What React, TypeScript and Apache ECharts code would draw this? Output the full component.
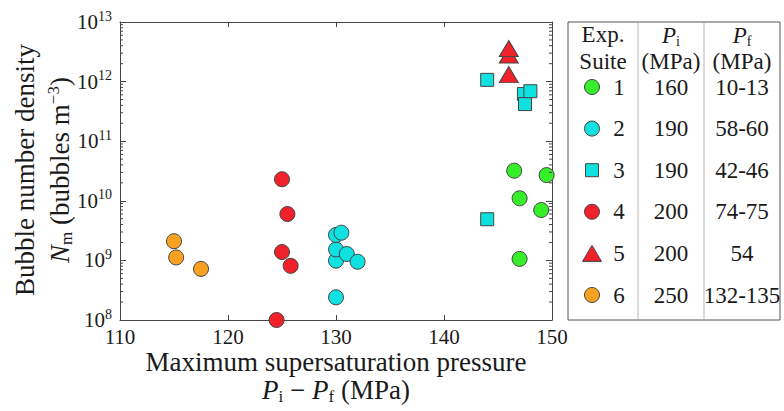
import React, { useEffect, useRef } from "react";
import * as echarts from "echarts";

const FONT = "Liberation Serif";

// Data: [maximum supersaturation pressure (MPa), bubble number density (m^-3)]
const suite1: number[][] = [
  [146.5, 3.2e10], [147.0, 1.1e10], [147.0, 1.06e9], [149.0, 7.0e9], [149.5, 2.7e10],
];
const suite2: number[][] = [
  [130.0, 2.4e8], [130.0, 9.9e8], [130.0, 1.53e9], [130.0, 2.67e9], [130.5, 2.92e9], [131.0, 1.28e9], [132.0, 9.5e8],
];
const suite3: number[][] = [
  [144.0, 1.07e12], [144.0, 4.9e9], [147.4, 6.2e11], [147.5, 4.2e11], [148.0, 6.9e11],
];
const suite4: number[][] = [
  [125.0, 2.3e10], [125.5, 6.0e9], [125.0, 1.38e9], [125.8, 8.1e8], [124.5, 1.0e8],
];
const suite5: number[][] = [
  [146.0, 1.31e12], [146.0, 2.8e12], [146.0, 3.6e12],
];
const suite6: number[][] = [
  [115.0, 2.1e9], [115.2, 1.12e9], [117.5, 7.2e8],
];

const suiteNames = ["1", "2", "3", "4", "5", "6"];
const piValues = ["160", "190", "190", "200", "200", "250"];
const pfValues = ["10-13", "58-60", "42-46", "74-75", "54", "132-135"];
const colors = ["#36ef2a", "#0fe0e0", "#0fe0e0", "#f0212b", "#f0212b", "#f9a221"];
const symbols = ["circle", "circle", "rect", "circle", "triangle", "circle"];
const symbolSizes: any[] = [15, 15, 13, 15, [19, 16], 15];
const allData = [suite1, suite2, suite3, suite4, suite5, suite6];

const xTicks = [110, 120, 130, 140, 150];
const decades = [8, 9, 10, 11, 12, 13];
const minorMultipliers = [2, 3, 4, 5, 6, 7, 8, 9];

const X_MIN = 110, X_MAX = 150;
const Y_MIN = 1e8, Y_MAX = 1e13;

const EDGE = "#444";
const TXT = "#1a1a1a";

export default function App() {
  const ref = useRef<HTMLDivElement>(null);
  useEffect(() => {
    if (!ref.current) return;
    const chart = echarts.init(ref.current, null, { renderer: "svg" });

    const minorValues: number[] = [];
    for (const d of decades.slice(0, -1)) {
      for (const m of minorMultipliers) minorValues.push(m * Math.pow(10, d));
    }

    const scatterSeries = allData.map((data, i) => ({
      type: "scatter",
      name: "Suite " + suiteNames[i],
      data,
      symbol: symbols[i],
      symbolSize: symbolSizes[i],
      clip: false,
      itemStyle: { color: colors[i], borderColor: EDGE, borderWidth: 1, opacity: 1 },
      z: 3,
    }));

    const minorSeries = {
      type: "custom",
      silent: true,
      clip: false,
      z: 4,
      data: [[X_MIN, Y_MIN]],
      renderItem: (params: any, api: any) => {
        const children: any[] = [];
        for (const v of minorValues) {
          const pl = api.coord([X_MIN, v]);
          const pr = api.coord([X_MAX, v]);
          children.push({
            type: "line",
            shape: { x1: pl[0], y1: pl[1], x2: pl[0] + 3, y2: pl[1] },
            style: { stroke: EDGE, lineWidth: 1 },
          });
          children.push({
            type: "line",
            shape: { x1: pr[0] - 3, y1: pr[1], x2: pr[0], y2: pr[1] },
            style: { stroke: EDGE, lineWidth: 1 },
          });
        }
        return { type: "group", children };
      },
    };

    // Legend table
    const tblX = 568, tblY = 22, tblW = 212, tblH = 298;
    const col1 = 638, col2 = 704;
    const rowY0 = 87, rowStep = 41.6;
    const tfs = 23;
    const graphics: any[] = [];
    graphics.push({
      type: "rect",
      shape: { x: tblX, y: tblY, width: tblW, height: tblH },
      style: { fill: "#fff", stroke: "#555", lineWidth: 1 },
      z: 1,
    });
    [col1, col2].forEach((cx) =>
      graphics.push({
        type: "line",
        shape: { x1: cx, y1: tblY + 1, x2: cx, y2: tblY + tblH - 1 },
        style: { stroke: "#d0d0d0", lineWidth: 1.5 },
        z: 2,
      })
    );
    const txt = (x: number, y: number, text: string, extra: any = {}) => ({
      type: "text",
      x,
      y,
      z: 3,
      style: {
        text,
        fontFamily: FONT,
        fontSize: tfs,
        fill: TXT,
        align: "center",
        verticalAlign: "middle",
        ...extra,
      },
    });
    const subRich = {
      i: { fontStyle: "italic", fontSize: tfs, fontFamily: FONT, fill: TXT, lineHeight: 26 },
      s: { fontSize: 14, fontFamily: FONT, fill: TXT, lineHeight: 14, verticalAlign: "bottom" },
    };
    graphics.push(txt(603, 34, "Exp."));
    graphics.push(txt(603, 61, "Suite"));
    graphics.push(txt(671, 35, "{i|P}{s|i}", { rich: subRich }));
    graphics.push(txt(671, 61, "(MPa)"));
    graphics.push(txt(742, 35, "{i|P}{s|f}", { rich: subRich }));
    graphics.push(txt(742, 61, "(MPa)"));

    suiteNames.forEach((nm, i) => {
      const y = rowY0 + i * rowStep;
      const sx = 592;
      const st = { fill: colors[i], stroke: EDGE, lineWidth: 1 };
      if (symbols[i] === "circle") {
        graphics.push({ type: "circle", shape: { cx: sx, cy: y, r: 7.5 }, style: st, z: 3 });
      } else if (symbols[i] === "rect") {
        graphics.push({ type: "rect", shape: { x: sx - 6.5, y: y - 6.5, width: 13, height: 13 }, style: st, z: 3 });
      } else {
        graphics.push({
          type: "polygon",
          shape: { points: [[sx, y - 8], [sx + 9.5, y + 8], [sx - 9.5, y + 8]] },
          style: st,
          z: 3,
        });
      }
      graphics.push(txt(619, y, nm));
      graphics.push(txt(671, y, piValues[i]));
      graphics.push(txt(742, y, pfValues[i]));
    });

    // Axis titles
    const titleFs = 27;
    const titleRich = {
      i: { fontStyle: "italic", fontSize: titleFs, fontFamily: FONT, fill: TXT, lineHeight: 30 },
      r: { fontSize: titleFs, fontFamily: FONT, fill: TXT, lineHeight: 30 },
      s: { fontSize: 17, fontFamily: FONT, fill: TXT, lineHeight: 16, verticalAlign: "bottom" },
      u: { fontSize: 17, fontFamily: FONT, fill: TXT, lineHeight: 16, verticalAlign: "top" },
    };
    const tTxt = (x: number, y: number, text: string, rot = 0) => ({
      type: "text",
      x,
      y,
      rotation: rot,
      z: 3,
      style: {
        text,
        rich: titleRich,
        fontFamily: FONT,
        fontSize: titleFs,
        fill: TXT,
        align: "center",
        verticalAlign: "middle",
      },
    });
    graphics.push(tTxt(336, 362, "{r|Maximum supersaturation pressure}"));
    graphics.push(tTxt(336, 390, "{i|P}{s|i}{r| − }{i|P}{s|f}{r| (MPa)}"));
    graphics.push(tTxt(25, 170, "{r|Bubble number density}", Math.PI / 2));
    graphics.push(tTxt(60, 170, "{i|N}{s|m}{r| (bubbles m}{u|−3}{r|)}", Math.PI / 2));

    const axisLineStyle = { color: EDGE, width: 1 };
    const option: any = {
      animation: false,
      backgroundColor: "#fff",
      textStyle: { fontFamily: FONT },
      grid: { left: 120, top: 22, width: 432, height: 298, containLabel: false },
      xAxis: [
        {
          type: "value",
          min: X_MIN,
          max: X_MAX,
          interval: 10,
          position: "bottom",
          axisLine: { show: true, onZero: false, lineStyle: axisLineStyle },
          axisTick: { show: true, inside: true, length: 5, lineStyle: axisLineStyle },
          splitLine: { show: false },
          axisLabel: {
            fontFamily: FONT,
            fontSize: 21,
            color: TXT,
            margin: 6,
            formatter: (v: number) => (xTicks.indexOf(v) >= 0 ? String(v) : ""),
          },
        },
        {
          type: "value",
          min: X_MIN,
          max: X_MAX,
          interval: 10,
          position: "top",
          axisLine: { show: true, onZero: false, lineStyle: axisLineStyle },
          axisTick: { show: true, inside: true, length: 5, lineStyle: axisLineStyle },
          splitLine: { show: false },
          axisLabel: { show: false },
        },
      ],
      yAxis: [
        {
          type: "log",
          logBase: 10,
          min: Y_MIN,
          max: Y_MAX,
          splitNumber: 5,
          position: "left",
          axisLine: { show: true, onZero: false, lineStyle: axisLineStyle },
          axisTick: { show: true, inside: true, length: 6, lineStyle: axisLineStyle },
          splitLine: { show: false },
          axisLabel: {
            margin: 8,
            fontFamily: FONT,
            formatter: (v: number) => {
              const e = Math.round(Math.log10(v));
              return "{b|10}{s|" + e + "}";
            },
            rich: {
              b: { fontFamily: FONT, fontSize: 21, color: TXT, lineHeight: 26 },
              s: { fontFamily: FONT, fontSize: 14, color: TXT, lineHeight: 16, verticalAlign: "top" },
            },
          },
        },
        {
          type: "log",
          logBase: 10,
          min: Y_MIN,
          max: Y_MAX,
          splitNumber: 5,
          position: "right",
          axisLine: { show: true, onZero: false, lineStyle: axisLineStyle },
          axisTick: { show: true, inside: true, length: 6, lineStyle: axisLineStyle },
          splitLine: { show: false },
          axisLabel: { show: false },
        },
      ],
      series: [...scatterSeries, minorSeries],
      graphic: { elements: graphics },
    };
    chart.setOption(option);
    return () => chart.dispose();
  }, []);
  return (
    <div
      ref={ref}
      style={{ position: "absolute", left: 0, top: 0, width: 784, height: 411 }}
    />
  );
}
